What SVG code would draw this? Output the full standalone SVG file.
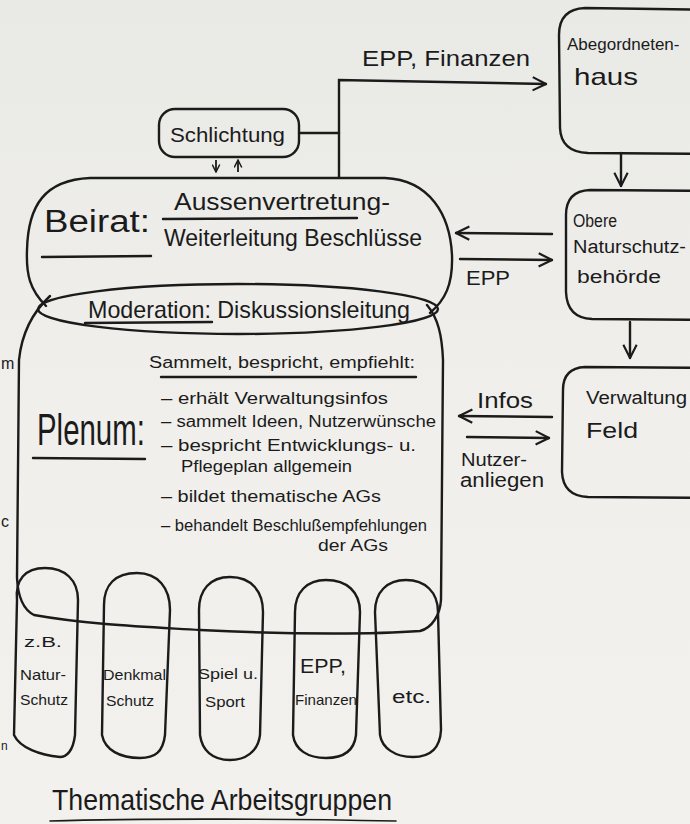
<svg xmlns="http://www.w3.org/2000/svg" width="690" height="824" viewBox="0 0 690 824">
<defs>
<linearGradient id="paper" x1="0" y1="0" x2="0" y2="1">
<stop offset="0" stop-color="#e9e9e6"/>
<stop offset="0.5" stop-color="#f0efec"/>
<stop offset="1" stop-color="#f2f1ee"/>
</linearGradient>
<marker id="ah" viewBox="0 0 12 12" refX="11" refY="6" markerWidth="16" markerHeight="16" markerUnits="userSpaceOnUse" orient="auto">
<path d="M1,1 L11,6 L1,11" fill="none" stroke="#1b1b1b" stroke-width="1.6"/>
</marker>
<marker id="ahs" viewBox="0 0 12 12" refX="11" refY="6" markerWidth="9" markerHeight="9" markerUnits="userSpaceOnUse" orient="auto">
<path d="M1,1 L11,6 L1,11" fill="none" stroke="#1b1b1b" stroke-width="2"/>
</marker>
</defs>
<style>
.ln{fill:none;stroke:#1b1b1b;stroke-width:2.4;stroke-linecap:round;stroke-linejoin:round}
.ar{fill:none;stroke:#1b1b1b;stroke-width:2.4;stroke-linecap:round;marker-end:url(#ah)}
.sa{fill:none;stroke:#1b1b1b;stroke-width:1.8;marker-end:url(#ahs)}
text{font-family:"Liberation Sans","DejaVu Sans",sans-serif;fill:#1b1b1b}
.t18{font-size:18px}
.t20{font-size:20px}
.t22{font-size:22px}
.t24{font-size:24px}
.it{font-size:16px}
.ag{font-size:15px}
</style>
<rect width="690" height="824" fill="url(#paper)"/>

<g id="connectors">
<path class="ln" d="M299,133 L339,133"/>
<path class="ar" d="M339,177 L339,80 L546,84"/>
<path class="ar" d="M621,153 L621,186"/>
<path class="ar" d="M552,234 L456,233"/>
<path class="ar" d="M460,259 L552,260"/>
<path class="ar" d="M630,322 L630,358"/>
<path class="ar" d="M552,417 L459,416"/>
<path class="ar" d="M467,437 L549,438"/>
<path class="sa" d="M216,160 L216,172"/>
<path class="sa" d="M238,172 L238,160"/>
<text class="t22" x="362" y="66" textLength="168" lengthAdjust="spacingAndGlyphs">EPP, Finanzen</text>
<text class="t20" x="466" y="285" textLength="44" lengthAdjust="spacingAndGlyphs">EPP</text>
<text class="t22" x="477" y="408" textLength="56" lengthAdjust="spacingAndGlyphs">Infos</text>
<text class="t18" x="461" y="466" textLength="66" lengthAdjust="spacingAndGlyphs">Nutzer-</text>
<text class="t20" x="460" y="487" textLength="84" lengthAdjust="spacingAndGlyphs">anliegen</text>
</g>

<g id="node-abgeordnetenhaus">
<path class="ln" d="M720,10 L585,8 Q559,9 559,35 L560,128 Q561,152 588,153 L720,154"/>
<text x="567" y="50" style="font-size:17px">Abegordneten-</text>
<text class="t24" x="574" y="85" textLength="64" lengthAdjust="spacingAndGlyphs">haus</text>
</g>

<g id="node-schlichtung">
<rect class="ln" x="159" y="109" width="140" height="48" rx="16"/>
<text class="t20" x="170" y="142" textLength="115" lengthAdjust="spacingAndGlyphs">Schlichtung</text>
</g>

<g id="node-beirat">
<path class="ln" d="M46,306 C30,290 26,275 27,250 C28,205 45,180 90,178 L385,178 C430,180 450,215 452,255 C453,285 445,300 430,313"/>
<text x="44" y="232" style="font-size:31px" textLength="106" lengthAdjust="spacingAndGlyphs">Beirat:</text>
<path class="ln" d="M42,257 L151,256"/>
<text class="t24" x="174" y="210" textLength="216" lengthAdjust="spacingAndGlyphs">Aussenvertretung-</text>
<path class="ln" d="M163,219 L357,218"/>
<text class="t24" x="164" y="246" textLength="258" lengthAdjust="spacingAndGlyphs">Weiterleitung Beschlüsse</text>
</g>

<g id="node-moderation">
<ellipse class="ln" cx="238" cy="309" rx="200" ry="25"/>
<text class="t24" x="88" y="318" textLength="322" lengthAdjust="spacingAndGlyphs">Moderation: Diskussionsleitung</text>
<path class="ln" d="M85,323 L212,322"/>
</g>

<g id="node-plenum">
<path class="ln" d="M50,296 C35,310 22,330 19,360 L17,578 C18,598 24,610 34,615 C90,625 150,627 200,630 C300,635 380,634 420,631 C432,628 440,615 441,600 L443,360 C442,335 438,318 427,305"/>
<text transform="translate(37,445) scale(0.735,1.1)" style="font-size:40px">Plenum:</text>
<path class="ln" d="M33,458 L145,459"/>
<text class="it" x="149" y="368" textLength="266" lengthAdjust="spacingAndGlyphs">Sammelt, bespricht, empfiehlt:</text>
<path class="ln" d="M161,377 L416,377"/>
<text class="it" x="161" y="404" textLength="227" lengthAdjust="spacingAndGlyphs">– erhält Verwaltungsinfos</text>
<text class="it" x="161" y="427" textLength="275" lengthAdjust="spacingAndGlyphs">– sammelt Ideen, Nutzerwünsche</text>
<text class="it" x="161" y="451" textLength="255" lengthAdjust="spacingAndGlyphs">– bespricht Entwicklungs- u.</text>
<text class="it" x="181" y="472" textLength="171" lengthAdjust="spacingAndGlyphs">Pflegeplan allgemein</text>
<text class="it" x="161" y="502" textLength="220" lengthAdjust="spacingAndGlyphs">– bildet thematische AGs</text>
<text class="it" x="161" y="531" textLength="266" lengthAdjust="spacingAndGlyphs">– behandelt Beschlußempfehlungen</text>
<text class="it" x="318" y="551" textLength="70" lengthAdjust="spacingAndGlyphs">der AGs</text>
</g>

<g id="node-obere">
<path class="ln" d="M720,191 L590,190 Q566,191 566,215 L566,292 Q567,318 592,319 L720,320"/>
<text class="t18" x="573" y="227" textLength="44" lengthAdjust="spacingAndGlyphs">Obere</text>
<text class="t18" x="573" y="253" textLength="113" lengthAdjust="spacingAndGlyphs">Naturschutz-</text>
<text class="t18" x="577" y="283" textLength="84" lengthAdjust="spacingAndGlyphs">behörde</text>
</g>

<g id="node-verwaltung">
<path class="ln" d="M720,368 L585,367 Q563,368 563,390 L562,472 Q563,496 588,497 L720,498"/>
<text class="t18" x="586" y="404" textLength="101" lengthAdjust="spacingAndGlyphs">Verwaltung</text>
<text class="t22" x="586" y="438" textLength="52" lengthAdjust="spacingAndGlyphs">Feld</text>
</g>

<g id="node-ag1">
<path class="ln" d="M17,600 C15,580 25,568 45,568 C65,568 78,580 78,600 L75,735 C73,752 66,757 60,757 C40,755 20,748 14,735 Z"/>
<text class="ag" x="24" y="647" textLength="38" lengthAdjust="spacingAndGlyphs">z.B.</text>
<text class="ag" x="20" y="680" textLength="46" lengthAdjust="spacingAndGlyphs">Natur-</text>
<text class="ag" x="20" y="705" textLength="48" lengthAdjust="spacingAndGlyphs">Schutz</text>
</g>
<g id="node-ag2">
<path class="ln" d="M104,605 C104,585 115,573 137,573 C158,573 170,588 170,610 L165,735 C163,752 155,758 140,758 C120,758 105,750 102,735 Z"/>
<text class="ag" x="103" y="680" textLength="63" lengthAdjust="spacingAndGlyphs">Denkmal</text>
<text class="ag" x="106" y="706" textLength="48" lengthAdjust="spacingAndGlyphs">Schutz</text>
</g>
<g id="node-ag3">
<path class="ln" d="M199,610 C199,590 210,577 230,577 C252,577 263,592 263,612 L260,735 C258,752 245,760 230,760 C212,760 202,750 200,735 Z"/>
<text class="ag" x="198" y="679" textLength="60" lengthAdjust="spacingAndGlyphs">Spiel u.</text>
<text class="ag" x="205" y="707" textLength="40" lengthAdjust="spacingAndGlyphs">Sport</text>
</g>
<g id="node-ag4">
<path class="ln" d="M295,612 C295,592 307,580 326,580 C347,580 360,592 360,612 L356,735 C354,752 342,758 326,758 C308,758 295,750 293,735 Z"/>
<text class="t20" x="300" y="673" textLength="46" lengthAdjust="spacingAndGlyphs">EPP,</text>
<text class="ag" x="295" y="705" textLength="62" lengthAdjust="spacingAndGlyphs">Finanzen</text>
</g>
<g id="node-ag5">
<path class="ln" d="M375,612 C375,592 387,580 406,580 C425,580 438,592 438,612 L441,730 C440,750 428,757 413,757 C395,757 382,748 380,735 Z"/>
<text class="t18" x="392" y="703" textLength="39" lengthAdjust="spacingAndGlyphs">etc.</text>
</g>

<g id="title">
<text x="52" y="810" style="font-size:30px" textLength="340" lengthAdjust="spacingAndGlyphs">Thematische Arbeitsgruppen</text>
<path class="ln" d="M50,821 C150,818 300,819 396,821" style="stroke-width:1.6"/>
</g>

<g id="margin">
<text x="1" y="369" style="font-size:16px">m</text>
<text x="1" y="527" style="font-size:16px">c</text>
<text x="1" y="750" style="font-size:12px">n</text>
</g>
</svg>
